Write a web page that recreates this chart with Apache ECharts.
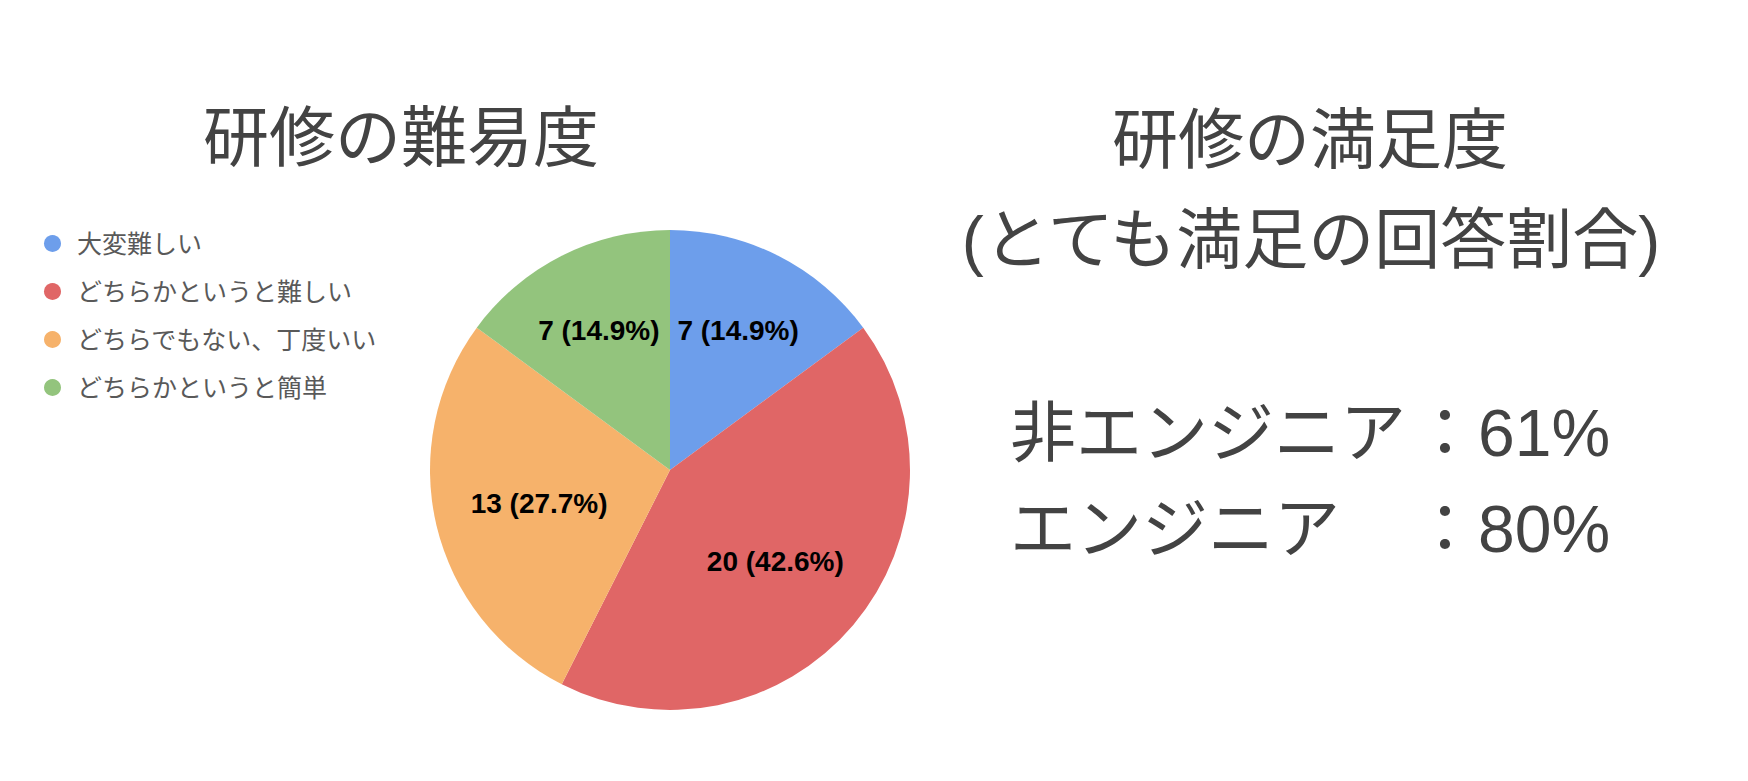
<!DOCTYPE html>
<html>
<head>
<meta charset="utf-8">
<script src="https://cdn.jsdelivr.net/npm/echarts@6/dist/echarts.min.js"></script>
<style>
html,body{margin:0;padding:0;background:#fff;}
#chart{width:1748px;height:781px;}
</style>
</head>
<body>
<div id="chart"></div>
<script>
// ---- data ----
const categories = ['大変難しい', 'どちらかというと難しい', 'どちらでもない、丁度いい', 'どちらかというと簡単'];
const counts = [7, 20, 13, 7];
const sliceColors = ['#6d9eeb', '#e06666', '#f6b26b', '#93c47d'];
const leftTitle = '研修の難易度';
const rightTitleLines = ['研修の満足度', '(とても満足の回答割合)'];
const satisfactionGroups = ['非エンジニア', 'エンジニア'];
const satisfactionRates = ['61%', '80%'];
// small label nudges (style only)
const labelNudge = [[0, -5], [-10, -6], [16, -2], [-3, -5]];

const total = counts.reduce((a, b) => a + b, 0);
const pieData = categories.map((n, i) => ({ name: n, value: counts[i], itemStyle: { color: sliceColors[i] } }));
const ghostData = categories.map((n, i) => ({ name: n, value: counts[i], label: { offset: labelNudge[i] } }));

const FONT = "'Liberation Sans', 'Noto Sans CJK JP', sans-serif";
const TXT = '#434343';

function txt(text, x, y, align, size) {
  return {
    type: 'text', silent: true,
    style: {
      text: text, x: x, y: y,
      align: align, textAlign: align,
      verticalAlign: 'middle', textVerticalAlign: 'middle',
      font: 'normal ' + size + 'px ' + FONT,
      fill: TXT
    }
  };
}

const graphics = [
  txt(leftTitle, 401, 138, 'center', 66),
  txt(rightTitleLines[0], 1310, 140, 'center', 66),
  txt(rightTitleLines[1], 1311, 240, 'center', 66)
];
const rowY = [433, 529];
satisfactionGroups.forEach((g, i) => {
  graphics.push(txt(g, 1010, rowY[i], 'left', 66));
  graphics.push(txt('：' + satisfactionRates[i], 1412, rowY[i], 'left', 66));
});

const chart = echarts.init(document.getElementById('chart'), null, { renderer: 'svg' });
chart.setOption({
  backgroundColor: '#ffffff',
  animation: false,
  legend: {
    orient: 'vertical',
    left: 39,
    top: 226,
    icon: 'circle',
    itemWidth: 39,
    itemHeight: 17,
    itemGap: 23,
    selectedMode: false,
    data: categories.map((n, i) => ({ name: n, itemStyle: { color: sliceColors[i] } })),
    textStyle: { fontSize: 25, lineHeight: 24, color: '#595959', fontFamily: FONT }
  },
  graphic: graphics,
  series: [
    {
      type: 'pie',
      center: [670, 470],
      radius: 240,
      startAngle: 90,
      clockwise: true,
      silent: true,
      label: { show: false },
      labelLine: { show: false },
      itemStyle: { borderWidth: 0 },
      data: pieData
    },
    {
      type: 'pie',
      center: [670, 470],
      radius: [56, 240],
      startAngle: 90,
      clockwise: true,
      silent: true,
      itemStyle: { color: 'rgba(0,0,0,0)', borderWidth: 0 },
      label: {
        show: true,
        position: 'inside',
        formatter: p => p.value + ' (' + (p.value / total * 100).toFixed(1) + '%)',
        fontSize: 28,
        fontWeight: 'bold',
        color: '#000000',
        fontFamily: FONT
      },
      labelLine: { show: false },
      data: ghostData
    }
  ]
});
</script>
</body>
</html>
